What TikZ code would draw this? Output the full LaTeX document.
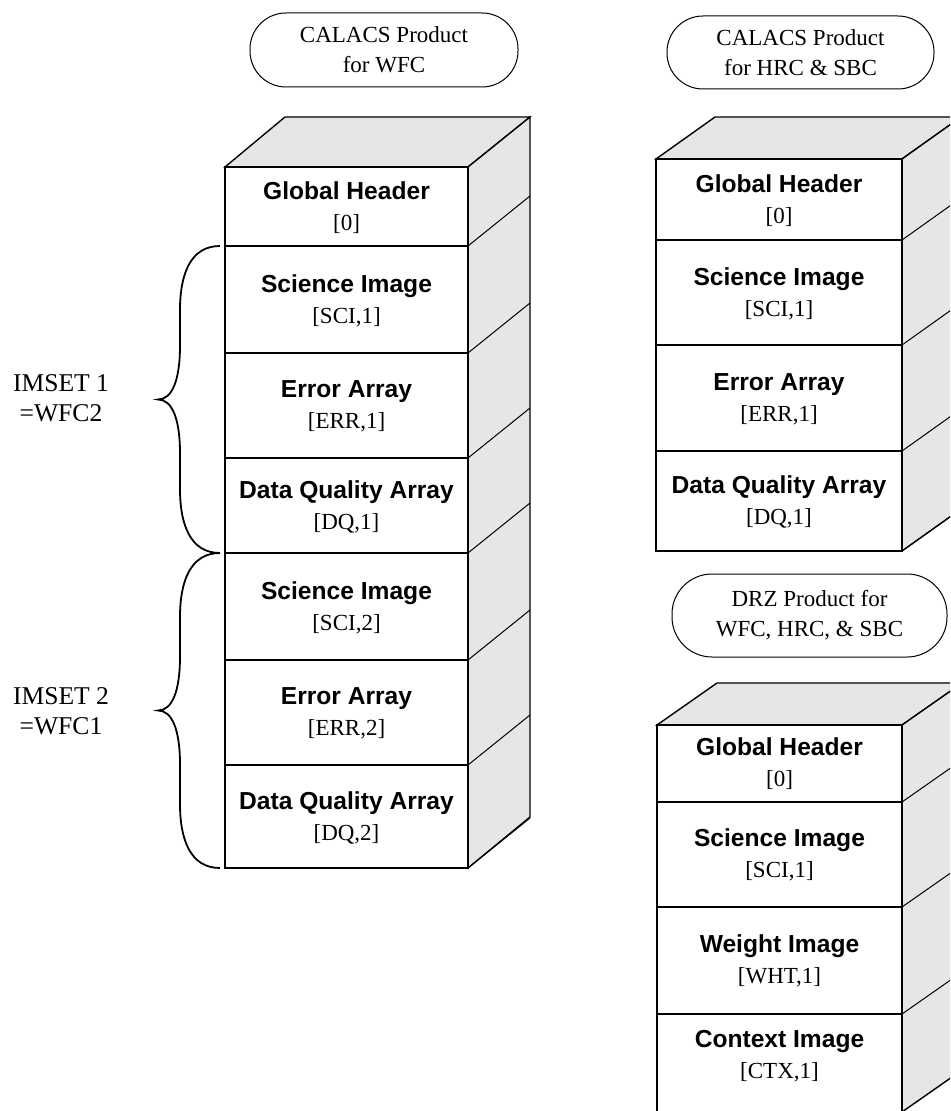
\documentclass[tikz,border=0pt]{standalone}
\usepackage{fontspec}
\setmainfont{Liberation Serif}
\setsansfont{Liberation Sans}
\usetikzlibrary{positioning,decorations.pathreplacing}
\definecolor{sidegray}{RGB}{230,230,230}
\newcommand{\hdu}[2]{{\sffamily\bfseries\fontsize{12.3}{15}\selectfont #1}\\\relax[#2]}

\begin{document}
\begin{tikzpicture}[x=0.5pt,y=-0.5pt]
        \tikzstyle{layer} = [align=center,inner sep=0pt,font=\fontsize{11.5}{15.5}\selectfont]
        \tikzstyle{product} = [draw,line width=0.5pt,rounded corners=18pt,align=center,inner sep=0pt,font=\fontsize{11.5}{15}\selectfont]
        \tikzstyle{face} = [draw,line width=0.7pt,fill=sidegray]
        \tikzstyle{slab} = [draw,line width=0.7pt]
        \tikzstyle{slant} = [line width=0.5pt]
        \tikzstyle{curly} = [line width=0.9pt]
        \tikzstyle{setlabel} = [align=center,inner sep=0pt,font=\fontsize{12.8}{15}\selectfont]
        \useasboundingbox (0,0) rectangle (950,1111);
        \clip (0,0) rectangle (950,1111);
        % WFC product
        \node[product,minimum width=134pt,minimum height=37pt] (wfcprod) at (384,50) {CALACS Product\\for WFC};
        \filldraw[face] (225,167) -- ++(60,-50) -- ++(245,0) -- (468,167) -- cycle;
        \filldraw[face] (468,167) -- ++(62,-50) -- (530,817) -- (468,868) -- cycle;
        \foreach \a/\b/\ttl/\lbl [count=\i] in {167/246/Global Header/0, 246/353/Science Image/{SCI,1},
            353/458/Error Array/{ERR,1}, 458/553/Data Quality Array/{DQ,1}, 553/660/Science Image/{SCI,2},
            660/765/Error Array/{ERR,2}, 765/868/Data Quality Array/{DQ,2}}{
          \draw[slab] (225,\a) rectangle (468,\b);
          \draw[slant] (468,\b) -- ++(62,-50);
          \node[layer] (wfc\i) at (346.5,{(\a+\b)/2+1}) {\hdu{\ttl}{\lbl}};
        }
        % the two imsets
        \foreach \t/\m/\b in {246/399.5/553, 553/710.5/868}{
          \draw[curly] (220,\t) .. controls (190,\t) and (180,{\t+29}) .. (180,{\t+64})
            -- (180,{\m-54}) .. controls (180,{\m-19}) and (172,\m) .. (158,\m)
            .. controls (172,\m) and (180,{\m+19}) .. (180,{\m+54})
            -- (180,{\b-64}) .. controls (180,{\b-29}) and (190,\b) .. (220,\b);
        }
        \node[setlabel] (imset1) at (61,398) {IMSET 1\\=WFC2};
        \node[setlabel] (imset2) at (61,711) {IMSET 2\\=WFC1};
        % HRC & SBC product
        \node[product,minimum width=133.5pt,minimum height=36.5pt] (hrcprod) at (800.5,52.5) {CALACS Product\\for HRC \& SBC};
        \filldraw[face] (656,159) -- ++(59,-42) -- ++(246,0) -- (902,159) -- cycle;
        \filldraw[face] (902,159) -- ++(59,-42) -- (961,509) -- (902,551) -- cycle;
        \foreach \a/\b/\ttl/\lbl [count=\i] in {159/240/Global Header/0, 240/345/Science Image/{SCI,1},
            345/451/Error Array/{ERR,1}, 451/551/Data Quality Array/{DQ,1}}{
          \draw[slab] (656,\a) rectangle (902,\b);
          \draw[slant] (902,\b) -- ++(59,-42);
          \node[layer] (hrc\i) at (779,{(\a+\b)/2+1}) {\hdu{\ttl}{\lbl}};
        }
        % DRZ product
        \node[product,minimum width=137.5pt,minimum height=41.5pt,rounded corners=20pt] (drzprod) at (809.5,615.5) {DRZ Product for\\WFC, HRC, \& SBC};
        \filldraw[face] (657,725) -- ++(60,-42) -- ++(245,0) -- (902,725) -- cycle;
        \filldraw[face] (902,725) -- ++(60,-42) -- (962,1070) -- (902,1112) -- cycle;
        \foreach \a/\b/\ttl/\lbl [count=\i] in {725/802/Global Header/0, 802/907/Science Image/{SCI,1},
            907/1014/Weight Image/{WHT,1}}{
          \draw[slab] (657,\a) rectangle (902,\b);
          \draw[slant] (902,\b) -- ++(60,-42);
          \node[layer] (drz\i) at (779.5,{(\a+\b)/2}) {\hdu{\ttl}{\lbl}};
        }
        \draw[slab] (657,1014) rectangle (902,1112);
        \node[layer] (drz4) at (779.5,1056) {\hdu{Context Image}{CTX,1}};
      \end{tikzpicture}
\end{document}
